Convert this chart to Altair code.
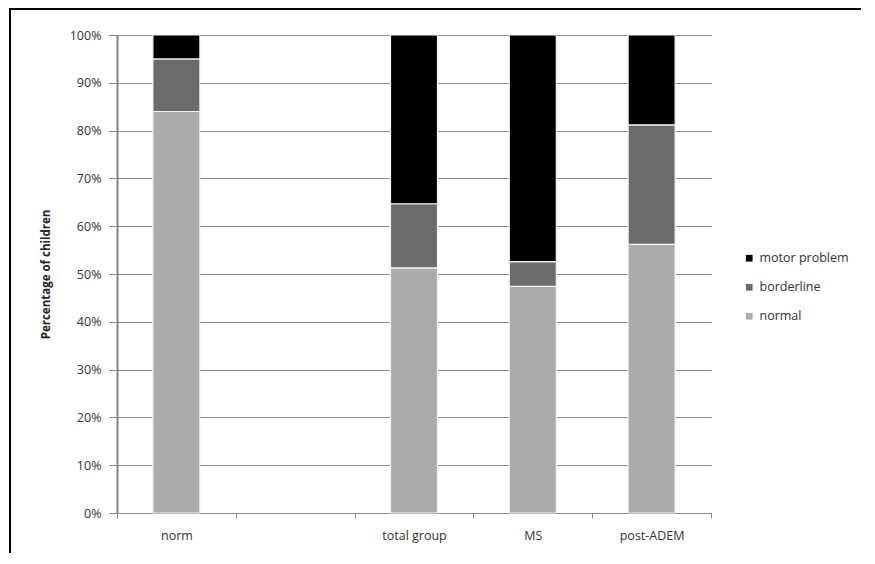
import altair as alt
import pandas as pd

groups = ["norm", " ", "total group", "MS", "post-ADEM"]
bar_groups = ["norm", "total group", "MS", "post-ADEM"]
categories = ["normal", "borderline", "motor problem"]
normal = [84.0, 51.3, 47.4, 56.2]
borderline = [11.0, 13.4, 5.2, 25.0]
motor = [5.0, 35.3, 47.4, 18.8]
colors = ["#ababab", "#6b6b6b", "#000000"]

rows = []
for i, g in enumerate(bar_groups):
    for k, (cat, vals) in enumerate(zip(categories, [normal, borderline, motor])):
        rows.append({"group": g, "category": cat, "value": vals[i], "order": k})
df = pd.DataFrame(rows)

bars = alt.Chart(df).mark_bar(width=47, stroke="#f2f2f2", strokeWidth=1.2).encode(
    x=alt.X("group:N", scale=alt.Scale(domain=groups, paddingInner=0, paddingOuter=0),
            axis=alt.Axis(title=None, labelAngle=0, tickBand="extent", ticks=True,
                          tickSize=5, labelPadding=11, labelFontSize=12.5,
                          labelColor="#333", domainColor="#888", tickColor="#888",
                          labelFont="Open Sans", grid=False)),
    y=alt.Y("value:Q", stack="zero", scale=alt.Scale(domain=[0, 100]),
            axis=alt.Axis(title="Percentage of children", values=list(range(0, 101, 10)),
                          labelExpr="datum.value + '%'", tickSize=8, labelPadding=8,
                          labelFontSize=12.5, labelColor="#333", labelFont="Open Sans",
                          titleFont="Open Sans", titleFontSize=11.5, titleFontWeight="bold",
                          titleColor="#222", titlePadding=18, domain=True,
                          domainColor="#808080", domainWidth=1.5,
                          tickColor="#888", gridColor="#8c8c8c", gridWidth=1)),
    color=alt.Color("category:N", scale=alt.Scale(domain=categories, range=colors),
                    sort=["motor problem", "borderline", "normal"],
                    legend=alt.Legend(title=None, orient="none", legendX=626, legendY=217,
                                      symbolType="square", symbolSize=45, symbolStrokeWidth=0,
                                      labelFontSize=12.5, labelColor="#333", labelFont="Open Sans",
                                      rowPadding=16, labelOffset=4,
                                      values=["motor problem", "borderline", "normal"])),
    order=alt.Order("order:Q", sort="ascending"),
)

axis_src = pd.DataFrame({"lo": [0], "hi": [100]})
y_domain = alt.Chart(axis_src).mark_rule(color="#808080", strokeWidth=1.6).encode(
    x=alt.value(0.5), y="lo:Q", y2="hi:Q")

frame_src = pd.DataFrame({"k": [0]})
top_line = alt.Chart(frame_src).mark_rule(color="black", strokeWidth=2).encode(
    x=alt.value(-108), x2=alt.value(760), y=alt.value(-26))
left_line = alt.Chart(frame_src).mark_rule(color="black", strokeWidth=2).encode(
    x=alt.value(-107), y=alt.value(-27), y2=alt.value(540))

chart = alt.layer(bars, y_domain, top_line, left_line).properties(
    width=594, height=478,
    autosize=alt.AutoSizeParams(type="none"),
    padding={"left": 109, "top": 27, "right": 150, "bottom": 40},
).configure_view(stroke=None).configure_axis(labelFont="Open Sans")

chart.save("out.html", embed_options={"renderer": "svg", "actions": False})
